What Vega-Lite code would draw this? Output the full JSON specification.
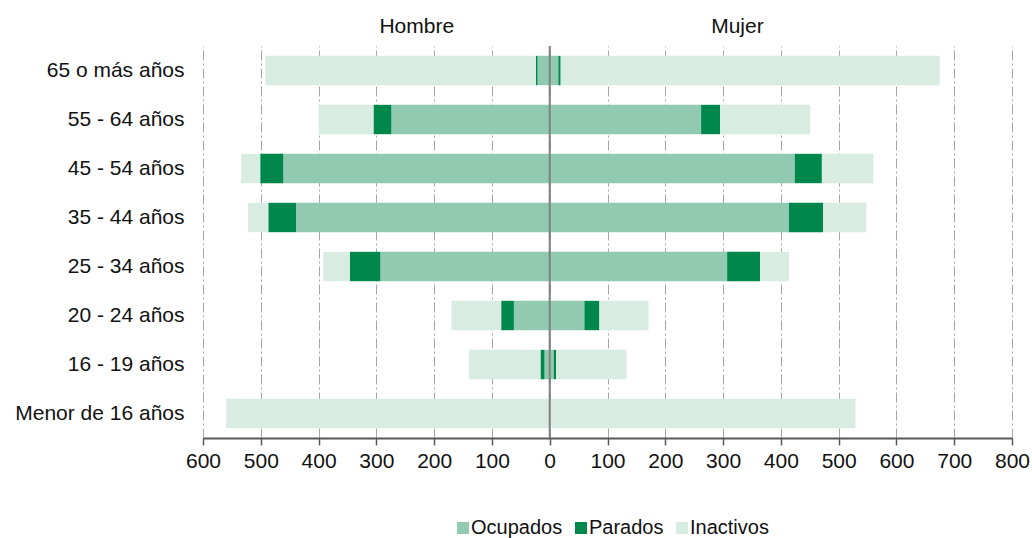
{
  "$schema": "https://vega.github.io/schema/vega-lite/v6.json",
  "width": 809,
  "height": 392,
  "autosize": {"type": "none"},
  "padding": {"left": 203, "top": 46, "right": 20, "bottom": 100},
  "config": {
    "font": "Liberation Sans",
    "view": {"stroke": null},
    "axis": {"labelFont": "Liberation Sans", "labelColor": "#111111"},
    "legend": {"labelFont": "Liberation Sans", "labelColor": "#111111"}
  },
  "data": {
    "values": [
      {"edad": "65 o más años", "sexo": "Hombre", "tipo": "Ocupados", "orden": 1, "valor": -21},
      {"edad": "65 o más años", "sexo": "Hombre", "tipo": "Parados", "orden": 2, "valor": -3},
      {"edad": "65 o más años", "sexo": "Hombre", "tipo": "Inactivos", "orden": 3, "valor": -468},
      {"edad": "65 o más años", "sexo": "Mujer", "tipo": "Ocupados", "orden": 1, "valor": 15},
      {"edad": "65 o más años", "sexo": "Mujer", "tipo": "Parados", "orden": 2, "valor": 4},
      {"edad": "65 o más años", "sexo": "Mujer", "tipo": "Inactivos", "orden": 3, "valor": 656},
      {"edad": "55 - 64 años", "sexo": "Hombre", "tipo": "Ocupados", "orden": 1, "valor": -274},
      {"edad": "55 - 64 años", "sexo": "Hombre", "tipo": "Parados", "orden": 2, "valor": -31},
      {"edad": "55 - 64 años", "sexo": "Hombre", "tipo": "Inactivos", "orden": 3, "valor": -95},
      {"edad": "55 - 64 años", "sexo": "Mujer", "tipo": "Ocupados", "orden": 1, "valor": 262},
      {"edad": "55 - 64 años", "sexo": "Mujer", "tipo": "Parados", "orden": 2, "valor": 33},
      {"edad": "55 - 64 años", "sexo": "Mujer", "tipo": "Inactivos", "orden": 3, "valor": 156},
      {"edad": "45 - 54 años", "sexo": "Hombre", "tipo": "Ocupados", "orden": 1, "valor": -461},
      {"edad": "45 - 54 años", "sexo": "Hombre", "tipo": "Parados", "orden": 2, "valor": -40},
      {"edad": "45 - 54 años", "sexo": "Hombre", "tipo": "Inactivos", "orden": 3, "valor": -33},
      {"edad": "45 - 54 años", "sexo": "Mujer", "tipo": "Ocupados", "orden": 1, "valor": 424},
      {"edad": "45 - 54 años", "sexo": "Mujer", "tipo": "Parados", "orden": 2, "valor": 47},
      {"edad": "45 - 54 años", "sexo": "Mujer", "tipo": "Inactivos", "orden": 3, "valor": 89},
      {"edad": "35 - 44 años", "sexo": "Hombre", "tipo": "Ocupados", "orden": 1, "valor": -439},
      {"edad": "35 - 44 años", "sexo": "Hombre", "tipo": "Parados", "orden": 2, "valor": -48},
      {"edad": "35 - 44 años", "sexo": "Hombre", "tipo": "Inactivos", "orden": 3, "valor": -35},
      {"edad": "35 - 44 años", "sexo": "Mujer", "tipo": "Ocupados", "orden": 1, "valor": 414},
      {"edad": "35 - 44 años", "sexo": "Mujer", "tipo": "Parados", "orden": 2, "valor": 59},
      {"edad": "35 - 44 años", "sexo": "Mujer", "tipo": "Inactivos", "orden": 3, "valor": 75},
      {"edad": "25 - 34 años", "sexo": "Hombre", "tipo": "Ocupados", "orden": 1, "valor": -293},
      {"edad": "25 - 34 años", "sexo": "Hombre", "tipo": "Parados", "orden": 2, "valor": -53},
      {"edad": "25 - 34 años", "sexo": "Hombre", "tipo": "Inactivos", "orden": 3, "valor": -46},
      {"edad": "25 - 34 años", "sexo": "Mujer", "tipo": "Ocupados", "orden": 1, "valor": 307},
      {"edad": "25 - 34 años", "sexo": "Mujer", "tipo": "Parados", "orden": 2, "valor": 57},
      {"edad": "25 - 34 años", "sexo": "Mujer", "tipo": "Inactivos", "orden": 3, "valor": 50},
      {"edad": "20 - 24 años", "sexo": "Hombre", "tipo": "Ocupados", "orden": 1, "valor": -62},
      {"edad": "20 - 24 años", "sexo": "Hombre", "tipo": "Parados", "orden": 2, "valor": -22},
      {"edad": "20 - 24 años", "sexo": "Hombre", "tipo": "Inactivos", "orden": 3, "valor": -86},
      {"edad": "20 - 24 años", "sexo": "Mujer", "tipo": "Ocupados", "orden": 1, "valor": 60},
      {"edad": "20 - 24 años", "sexo": "Mujer", "tipo": "Parados", "orden": 2, "valor": 26},
      {"edad": "20 - 24 años", "sexo": "Mujer", "tipo": "Inactivos", "orden": 3, "valor": 85},
      {"edad": "16 - 19 años", "sexo": "Hombre", "tipo": "Ocupados", "orden": 1, "valor": -9},
      {"edad": "16 - 19 años", "sexo": "Hombre", "tipo": "Parados", "orden": 2, "valor": -7},
      {"edad": "16 - 19 años", "sexo": "Hombre", "tipo": "Inactivos", "orden": 3, "valor": -124},
      {"edad": "16 - 19 años", "sexo": "Mujer", "tipo": "Ocupados", "orden": 1, "valor": 7},
      {"edad": "16 - 19 años", "sexo": "Mujer", "tipo": "Parados", "orden": 2, "valor": 4},
      {"edad": "16 - 19 años", "sexo": "Mujer", "tipo": "Inactivos", "orden": 3, "valor": 122},
      {"edad": "Menor de 16 años", "sexo": "Hombre", "tipo": "Inactivos", "orden": 3, "valor": -560},
      {"edad": "Menor de 16 años", "sexo": "Mujer", "tipo": "Inactivos", "orden": 3, "valor": 529}
    ]
  },
  "layer": [
    {
      "mark": {"type": "bar"},
      "encoding": {
        "y": {
          "field": "edad",
          "type": "nominal",
          "sort": ["65 o más años", "55 - 64 años", "45 - 54 años", "35 - 44 años", "25 - 34 años", "20 - 24 años", "16 - 19 años", "Menor de 16 años"],
          "scale": {"paddingInner": 0.4, "paddingOuter": 0.2},
          "axis": {"title": null, "domain": false, "ticks": false, "labelFontSize": 21, "labelPadding": 19, "grid": false}
        },
        "x": {
          "field": "valor",
          "type": "quantitative",
          "stack": "zero",
          "scale": {"domain": [-600, 800], "nice": false},
          "axis": {
            "orient": "bottom",
            "title": null,
            "values": [-600, -500, -400, -300, -200, -100, 0, 100, 200, 300, 400, 500, 600, 700, 800],
            "labelExpr": "'' + abs(datum.value)",
            "labelFontSize": 21,
            "labelPadding": 5,
            "labelFlush": false,
            "labelOverlap": false,
            "domainColor": "#595959",
            "domainWidth": 2,
            "tickColor": "#595959",
            "tickWidth": 1.5,
            "tickSize": 7,
            "grid": true,
            "gridColor": "#a6a6a6",
            "gridDash": [10, 3, 2, 3],
            "gridWidth": 1
          }
        },
        "color": {
          "field": "tipo",
          "type": "nominal",
          "scale": {"domain": ["Ocupados", "Parados", "Inactivos"], "range": ["#92cab1", "#00884c", "#d8ece2"]},
          "legend": {
            "title": null,
            "orient": "none",
            "direction": "horizontal",
            "legendX": 250,
            "legendY": 472,
            "labelFontSize": 20,
            "symbolType": "square",
            "symbolSize": 144,
            "symbolStrokeWidth": 0,
            "labelOffset": -2,
            "columnPadding": 8,
            "padding": 0
          }
        },
        "order": {"field": "orden", "type": "quantitative"}
      }
    },
    {
      "data": {"values": [{"x": 0}]},
      "mark": {"type": "rule", "color": "#808080", "strokeWidth": 2},
      "encoding": {
        "x": {
          "field": "x",
          "type": "quantitative",
          "axis": {
            "orient": "top",
            "title": null,
            "values": [-231, 324],
            "labelExpr": "datum.value < 0 ? 'Hombre' : 'Mujer'",
            "labelFontSize": 21,
            "labelBaseline": "alphabetic",
            "labelPadding": 14,
            "domain": false,
            "ticks": false,
            "grid": false
          }
        }
      }
    }
  ]
}
